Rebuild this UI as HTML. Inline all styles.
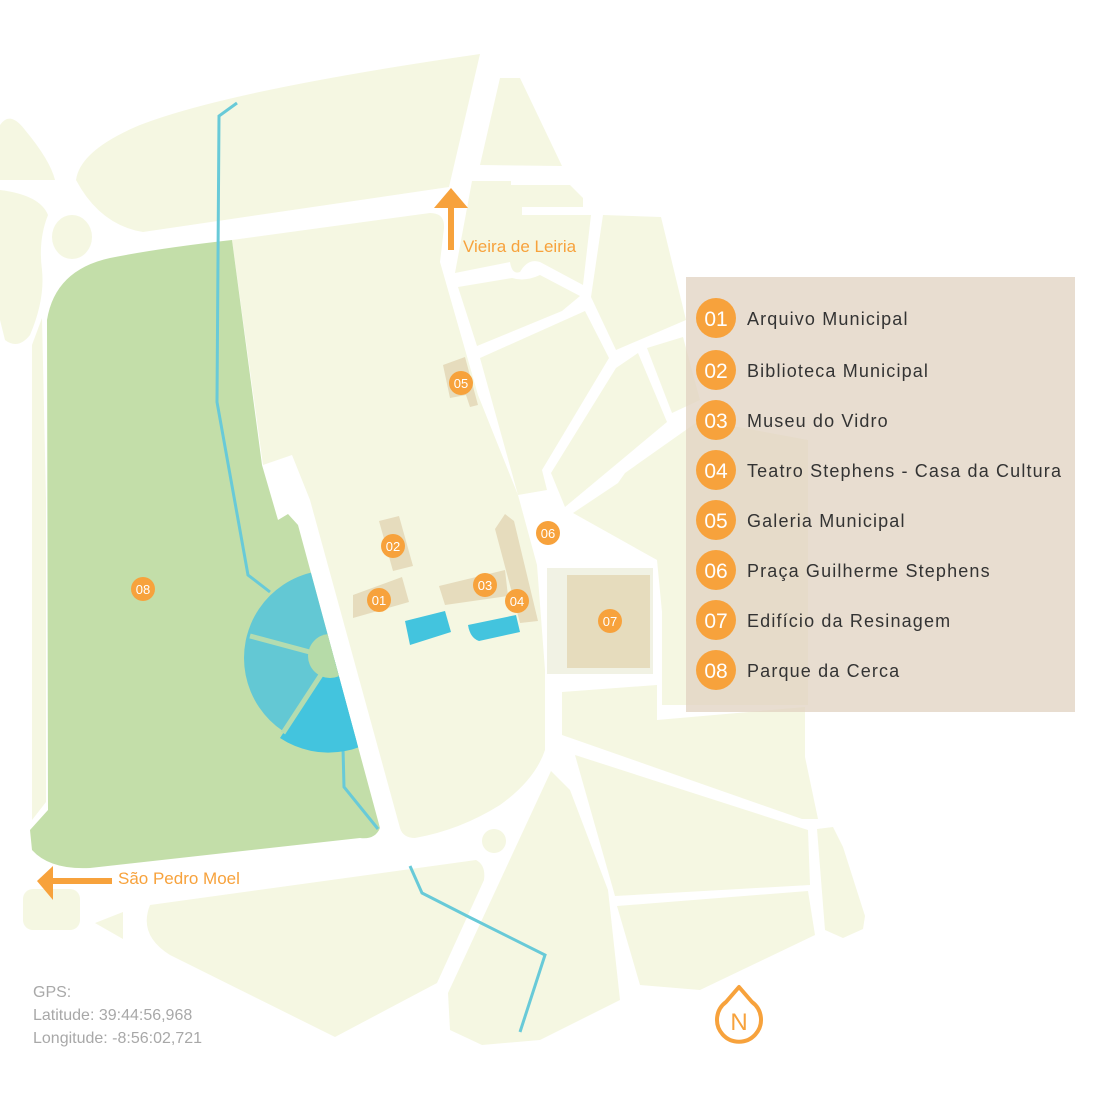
<!DOCTYPE html>
<html><head><meta charset="utf-8"><style>
html,body{margin:0;padding:0;background:#fff;}
svg{display:block;}
text{font-family:"Liberation Sans",sans-serif;}
</style></head><body>
<svg width="1093" height="1093" viewBox="0 0 1093 1093" xmlns="http://www.w3.org/2000/svg">
<defs>
<clipPath id="pk"><path d="M47,320 Q55,270 110,258 Q160,248 232,240 L262,465 L278,520 L288,514 L298,525 L380,828 Q375,840 360,838 L90,868 Q50,870 32,850 L30,830 L48,810 Z"/></clipPath>
</defs>
<rect width="1093" height="1093" fill="#fff"/>
<g fill="#f5f7e2">
<path d="M76,180 Q80,150 140,125 Q230,90 480,54 L449,187 L143,232 Q100,225 76,180 Z"/>
<path d="M500,78 L520,78 L562,166 L480,165 Z"/>
<path d="M0,125 Q10,110 25,130 Q50,160 55,180 L0,180 Z"/>
<path d="M0,190 Q40,195 48,215 Q38,240 42,270 Q45,300 30,335 Q18,350 5,340 L0,320 Z"/>
<ellipse cx="72" cy="237" rx="20" ry="22"/>
<path d="M32,345 L42,318 L46,500 L46,802 L32,820 Z"/>
<path d="M472,181 L511,181 L511,185 L570,185 L583,198 L583,207 L522,207 L522,215 L591,215 L583,285 L540,262 Q528,258 520,272 Q512,275 510,262 L455,273 Z"/>
<path d="M458,287 L512,278 Q525,282 540,275 L580,296 L562,311 L477,346 Z"/>
<path d="M603,215 L661,217 L686,320 L616,350 L591,297 Z"/>
<path d="M480,358 L585,311 L609,358 L542,470 L547,490 L518,495 Z"/>
<path d="M616,368 L638,353 L667,422 L565,507 L551,473 Z"/>
<path d="M647,348 L683,337 L700,400 L672,413 Z"/>
<path d="M573,513 L618,483 L625,473 L700,420 L808,440 L808,705 L662,705 L662,612 L657,560 Z"/>
<path d="M232,240 L430,213 Q445,213 444,228 L440,262 L478,395 L518,495 L537,565 L545,670 L545,750 Q535,780 500,805 Q460,830 415,838 Q403,838 400,828 L310,500 L292,455 L263,465 Z"/>
<path d="M562,692 L657,685 L657,720 L805,707 L805,757 L818,819 L802,819 L562,735 Z"/>
<path d="M575,755 L808,830 L810,885 L615,896 Z"/>
<path d="M617,906 L808,891 L815,935 L700,990 L640,985 Z"/>
<path d="M817,829 L833,827 L843,847 L865,916 L863,929 L843,938 L825,930 Z"/>
<path d="M551,771 L570,790 L608,890 L620,1000 L540,1040 L482,1045 L450,1030 L448,993 Z"/>
<path d="M150,905 L476,860 Q486,865 484,880 L437,983 L335,1037 L170,955 Q138,935 150,905 Z"/>
<path d="M95,923 L123,912 L123,939 Z"/>
<rect x="23" y="889" width="57" height="41" rx="10"/>
<circle cx="494" cy="841" r="12"/>
</g>
<rect x="547" y="568" width="106" height="106" fill="#f1f2e4"/>
<rect x="567" y="575" width="83" height="93" fill="#e6dcbd"/>
<path d="M47,320 Q55,270 110,258 Q160,248 232,240 L262,465 L278,520 L288,514 L298,525 L380,828 Q375,840 360,838 L90,868 Q50,870 32,850 L30,830 L48,810 Z" fill="#c3dea9"/>
<polyline points="237,103 219,116 217,402 248,575 270,592" fill="none" stroke="#68cad8" stroke-width="3"/>
<polyline points="343,748 344,787 378,829" fill="none" stroke="#68cad8" stroke-width="3"/>
<g clip-path="url(#pk)">
<circle cx="332" cy="658" r="88" fill="#63c8d4"/>
<path d="M332,658 L280,738 A88,88 0 0 0 400,716 Z" fill="#43c4de"/>
<path d="M332,658 L283,733" stroke="#b4dcb0" stroke-width="5"/>
<path d="M332,658 L250,636" stroke="#b4dcb0" stroke-width="5"/>
<circle cx="330" cy="656" r="22" fill="#b6dba8"/>
</g>
<polyline points="410,866 422,893 471,918 545,955 520,1032" fill="none" stroke="#68cad8" stroke-width="3"/>
<g fill="#e6dcbd">
<path d="M443,365 L465,357 L478,405 L470,407 L466,395 L450,398 Z"/>
<path d="M379,521 L399,516 L413,566 L393,571 Z"/>
<path d="M353,595 L402,577 L409,602 L353,618 Z"/>
<path d="M439,586 L505,570 L508,596 L445,605 Z"/>
<path d="M495,529 L505,514 L514,521 L538,621 L520,623 Z"/>
</g>
<path d="M405,621 L445,611 L451,632 L410,645 Z" fill="#43c4de"/>
<path d="M468,625 L516,615 L520,632 L479,641 Q470,638 468,625 Z" fill="#43c4de"/>
<g fill="#f7a23c">
<circle cx="461" cy="383" r="12"/><circle cx="393" cy="546" r="12"/><circle cx="379" cy="600" r="12"/>
<circle cx="485" cy="585" r="12"/><circle cx="517" cy="601" r="12"/><circle cx="548" cy="533" r="12"/>
<circle cx="610" cy="621" r="12"/><circle cx="143" cy="589" r="12"/>
</g>
<g fill="#fff" font-size="13" text-anchor="middle">
<text x="461" y="388">05</text><text x="393" y="551">02</text><text x="379" y="605">01</text>
<text x="485" y="590">03</text><text x="517" y="606">04</text><text x="548" y="538">06</text>
<text x="610" y="626">07</text><text x="143" y="594">08</text>
</g>
<rect x="448" y="200" width="6" height="50" fill="#f7a23c"/>
<path d="M434,208 L451,188 L468,208 Z" fill="#f7a23c"/>
<text x="463" y="252" font-size="17" fill="#f7a23c">Vieira de Leiria</text>
<rect x="50" y="878" width="62" height="6" fill="#f7a23c"/>
<path d="M53,866 L37,881 L53,900 Z" fill="#f7a23c"/>
<text x="118" y="884" font-size="17" fill="#f7a23c">São Pedro Moel</text>
<rect x="686" y="277" width="389" height="435" fill="rgba(224,210,192,0.75)"/>
<g fill="#f7a23c">
<circle cx="716" cy="318" r="20"/><circle cx="716" cy="370" r="20"/><circle cx="716" cy="420" r="20"/><circle cx="716" cy="470" r="20"/>
<circle cx="716" cy="520" r="20"/><circle cx="716" cy="570" r="20"/><circle cx="716" cy="620" r="20"/><circle cx="716" cy="670" r="20"/>
</g>
<g fill="#fff" font-size="21" text-anchor="middle">
<text x="716" y="326">01</text><text x="716" y="378">02</text><text x="716" y="428">03</text><text x="716" y="478">04</text>
<text x="716" y="528">05</text><text x="716" y="578">06</text><text x="716" y="628">07</text><text x="716" y="678">08</text>
</g>
<g fill="#333" font-size="18" letter-spacing="1.15">
<text x="747" y="325">Arquivo Municipal</text>
<text x="747" y="377">Biblioteca Municipal</text>
<text x="747" y="427">Museu do Vidro</text>
<text x="747" y="477">Teatro Stephens - Casa da Cultura</text>
<text x="747" y="527">Galeria Municipal</text>
<text x="747" y="577">Praça Guilherme Stephens</text>
<text x="747" y="627">Edifício da Resinagem</text>
<text x="747" y="677">Parque da Cerca</text>
</g>
<g fill="#a8a8a8" font-size="16">
<text x="33" y="997">GPS:</text>
<text x="33" y="1020">Latitude: 39:44:56,968</text>
<text x="33" y="1043">Longitude: -8:56:02,721</text>
</g>
<path d="M739,987 L752,1002 A22,22 0 1 1 726,1002 Z" fill="none" stroke="#f7a23c" stroke-width="4" stroke-linejoin="round"/>
<text x="739" y="1030" font-size="24" fill="#f7a23c" text-anchor="middle">N</text>
</svg>
</body></html>
